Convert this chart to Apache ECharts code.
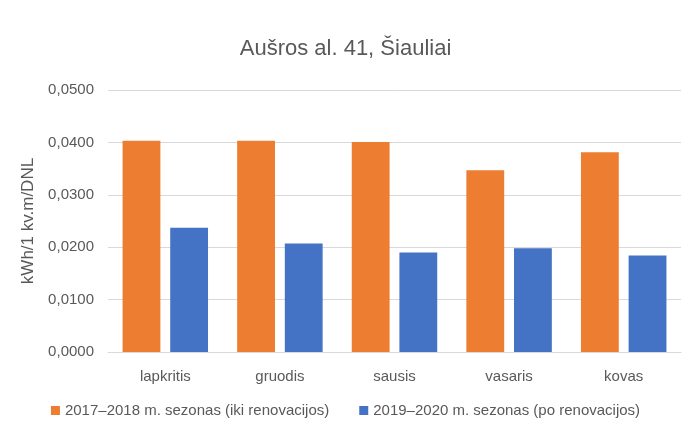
<!DOCTYPE html>
<html>
<head>
<meta charset="utf-8">
<script src="https://cdn.jsdelivr.net/npm/echarts@6/dist/echarts.min.js"></script>
<style>
  html, body { margin: 0; padding: 0; background: #fff; }
  #chart { width: 691px; height: 425px; }
</style>
</head>
<body>
<div id="chart"></div>
<script>
'use strict';
const months = ['lapkritis', 'gruodis', 'sausis', 'vasaris', 'kovas'];
const before = [0.0403, 0.0403, 0.0401, 0.0347, 0.0381];
const after = [0.0237, 0.0207, 0.0190, 0.0198, 0.0184];
const seriesNames = ['2017–2018 m. sezonas (iki renovacijos)', '2019–2020 m. sezonas (po renovacijos)'];

let myChart = echarts.init(document.getElementById('chart'));
const font = '"Liberation Sans", sans-serif';
const grey = '#595959';

let option = {
    animation: false,
    backgroundColor: '#fff',
    title: {
        text: 'Aušros al. 41, Šiauliai',
        left: 'center',
        top: 33,
        textStyle: { color: grey, fontFamily: font, fontSize: 22, fontWeight: 'normal' }
    },
    legend: {
        bottom: 2,
        left: 'center',
        itemWidth: 9,
        itemHeight: 9,
        itemGap: 30,
        icon: 'rect',
        textStyle: { color: grey, fontFamily: font, fontSize: 15 },
        data: seriesNames
    },
    grid: { left: 108, right: 10, top: 90, bottom: 73 },
    xAxis: {
        type: 'category',
        data: months,
        axisLine: { lineStyle: { color: '#d9d9d9' } },
        axisTick: { show: false },
        axisLabel: { color: grey, fontFamily: font, fontSize: 15, margin: 17 }
    },
    yAxis: {
        type: 'value',
        min: 0,
        max: 0.05,
        interval: 0.01,
        name: 'kWh/1 kv.m/DNL',
        nameLocation: 'middle',
        nameGap: 65,
        nameTextStyle: { color: grey, fontFamily: font, fontSize: 17 },
        axisLabel: {
            color: grey, fontFamily: font, fontSize: 15, margin: 14,
            formatter: v => v.toFixed(4).replace('.', ',')
        },
        splitLine: { lineStyle: { color: '#d9d9d9' } }
    },
    series: [
        { name: seriesNames[0], type: 'bar', data: before, barWidth: '33%', barGap: '26%',
          itemStyle: { color: '#ED7D31' } },
        { name: seriesNames[1], type: 'bar', data: after, barWidth: '33%',
          itemStyle: { color: '#4472C4' } }
    ]
};
myChart.setOption(option);
</script>
</body>
</html>
